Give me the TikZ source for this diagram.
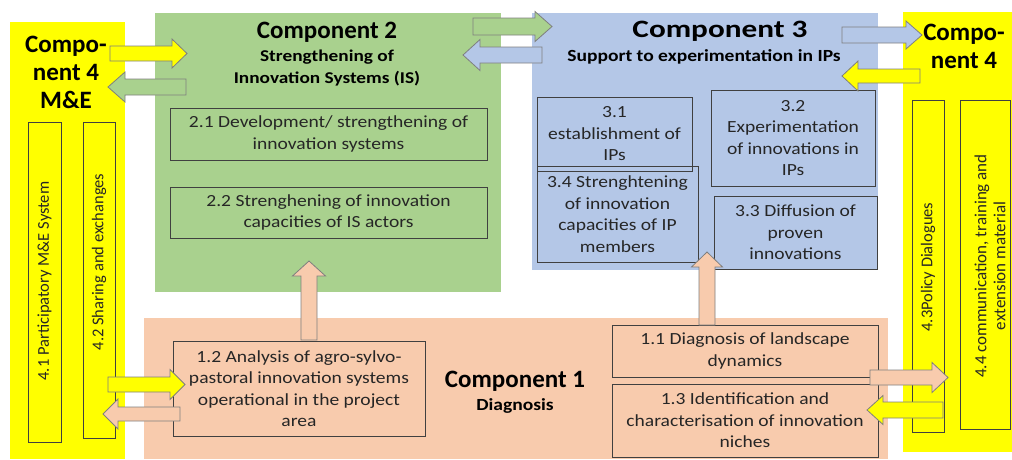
\documentclass[tikz,border=0pt]{standalone}
\usepackage{fontspec}
\setmainfont{Carlito}
\newfontfamily\boxfont[FakeStretch=1.15]{Carlito}
\newfontfamily\subfont[FakeStretch=1.17]{Carlito}
\newfontfamily\wideTitle[FakeStretch=1.25]{Carlito}
\definecolor{yel}{HTML}{FFFF00}
\definecolor{grn}{HTML}{A9D18E}
\definecolor{blu}{HTML}{B4C7E7}
\definecolor{sal}{HTML}{F8CBAD}
\definecolor{aline}{HTML}{7F7F7F}
\definecolor{bline}{HTML}{404040}
\definecolor{btext}{HTML}{262626}
\newcommand\barrowH[7]{\draw[arrowline,fill=#7] (#1,#4-#5) -- (#2,#4-#5) -- (#2,#4-#6) -- (#3,#4) -- (#2,#4+#6) -- (#2,#4+#5) -- (#1,#4+#5) -- cycle;}
\newcommand\barrowV[7]{\draw[arrowline,fill=#7] (#4-#5,#1) -- (#4-#5,#2) -- (#4-#6,#2) -- (#4,#3) -- (#4+#6,#2) -- (#4+#5,#2) -- (#4+#5,#1) -- cycle;}
\tikzset{
  arrowline/.style={draw=aline,line width=0.8pt,line join=miter},
  box/.style={draw=bline,line width=0.9pt,inner sep=0pt,align=center,text=btext,font=\boxfont\fontsize{17}{21.5}\selectfont},
  rbox/.style={draw=bline,line width=0.9pt},
  rtext/.style={rotate=90,align=center,text=btext,font=\fontsize{16.5}{21.5}\selectfont},
  bigtitle/.style={font=\fontsize{25}{28}\selectfont\bfseries,align=center},
  subtitle/.style={font=\subfont\fontsize{16.5}{22}\selectfont\bfseries,align=center},
}
\begin{document}
\begin{tikzpicture}[x=1pt,y=-1pt]
\useasboundingbox (0,0) rectangle (1012,459);
% panels
\fill[yel] (10,22) rectangle (125,459);
\fill[grn] (155,13) rectangle (501,292);
\fill[blu] (532,13) rectangle (878,270);
\fill[yel] (903,12) rectangle (1012,452);
\fill[sal] (144,318) rectangle (888,459);
% titles
\node[bigtitle] (t4l) at (66,72) {Compo-\\nent 4\\M\&E};
\node[bigtitle] (t2) at (327,32) {Component 2};
\node[subtitle] (s2) at (327,68) {Strengthening of\\Innovation Systems (IS)};
\node[bigtitle,font=\wideTitle\fontsize{25}{28}\selectfont\bfseries] (t3) at (720,31) {Component 3};
\node[subtitle,font=\boxfont\fontsize{17}{20}\selectfont\bfseries] (s3) at (704,57) {Support to experimentation in IPs};
\node[bigtitle] (t4r) at (964,46) {Compo-\\nent 4};
\node[bigtitle] (t1) at (515,381) {Component 1};
\node[subtitle,font=\boxfont\fontsize{17}{20}\selectfont\bfseries] (s1) at (515,406) {Diagnosis};
% component 2 boxes
\node[box,minimum width=317,minimum height=52] (b21) at (328.5,134) {2.1 Development/ strengthening of\\innovation systems};
\node[box,minimum width=317,minimum height=51] (b22) at (328.5,212.5) {2.2 Strenghening of innovation\\capacities of IS actors};
% component 3 boxes
\node[box,minimum width=161,minimum height=96] (b34) at (617.5,214) {3.4 Strenghtening\\of innovation\\capacities of IP\\members};
\node[box,minimum width=155,minimum height=74] (b31) at (614.5,134) {3.1\\establishment of\\IPs};
\node[box,minimum width=164,minimum height=96] (b32) at (793,138) {3.2\\Experimentation\\of innovations in\\IPs};
\node[box,minimum width=163,minimum height=73] (b33) at (795.5,232.5) {3.3 Diffusion of\\proven\\innovations};
% component 1 boxes
\node[box,minimum width=266,minimum height=52] (b11) at (745,351) {1.1 Diagnosis of landscape\\dynamics};
\node[box,minimum width=266,minimum height=73] (b13) at (745,420.5) {1.3 Identification and\\characterisation of innovation\\niches};
\node[box,minimum width=252,minimum height=95] (b12) at (299,388.5) {1.2 Analysis of agro-sylvo-\\pastoral innovation systems\\operational in the project\\area};
% component 4 vertical boxes
\draw[rbox] (28,122) rectangle (61,442);
\node[rtext] (b41) at (44.5,281) {4.1 Participatory M\&E System};
\draw[rbox] (83,122) rectangle (115,438);
\node[rtext] (b42) at (99,262) {4.2 Sharing and exchanges};
\draw[rbox] (912,100) rectangle (944,432);
\node[rtext] (b43) at (928,267) {4.3Policy Dialogues};
\draw[rbox] (960,100) rectangle (1010,429);
\node[rtext,font=\fontsize{17}{19}\selectfont] (b44) at (990,266) {4.4 communication, training and\\extension material};
% block arrows
\barrowH{110}{172}{187}{53.5}{7.5}{14.5}{yel}
\barrowH{186}{125}{108}{87}{8}{15}{grn}
\barrowH{473}{535}{552}{26.5}{8.5}{15}{grn}
\barrowH{542}{480}{463}{55}{8}{15.5}{blu}
\barrowH{842}{906}{922}{35}{8}{14}{blu}
\barrowH{920}{858}{842}{76}{7}{15}{yel}
\barrowH{870}{932}{948}{377.5}{7.5}{15}{sal}
\barrowH{943}{883}{867}{410}{8}{14.5}{yel}
\barrowH{108}{170}{185}{384.5}{7.5}{15}{yel}
\barrowH{180}{118}{103}{414}{7}{15}{sal}
\barrowV{340}{276}{261}{309}{8}{16.5}{sal}
\barrowV{325}{267}{252}{707}{8}{15.5}{sal}
\end{tikzpicture}
\end{document}
